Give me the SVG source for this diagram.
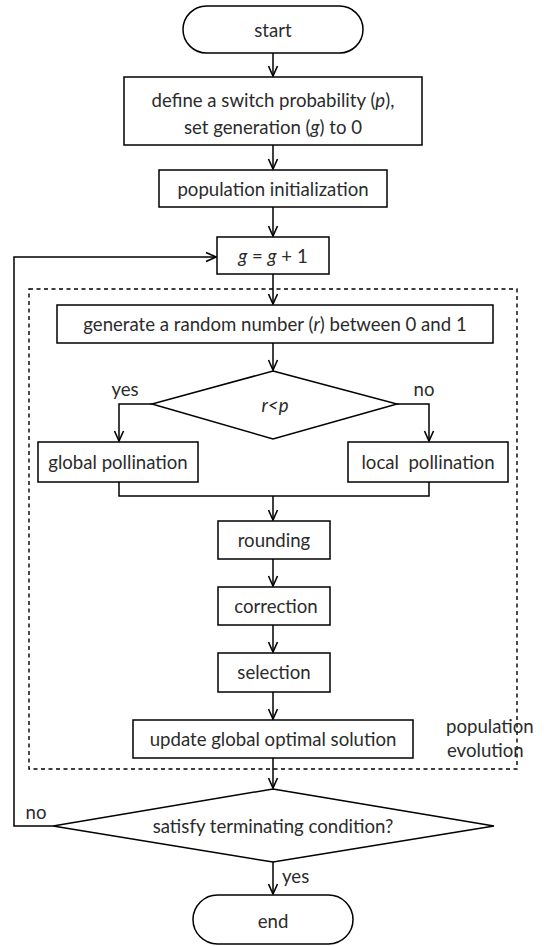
<svg xmlns="http://www.w3.org/2000/svg" width="547" height="946" viewBox="0 0 547 946">
<style>
.n{fill:#fff;stroke:#000;stroke-width:1.5}
.c{fill:none;stroke:#000;stroke-width:1.5}
.t{font-family:Lato,"Open Sans",sans-serif;font-weight:400;font-size:18.6px;fill:#2b2b2b;text-anchor:middle;dominant-baseline:central;white-space:pre}
.l{font-family:Lato,"Open Sans",sans-serif;font-weight:400;font-size:18.6px;fill:#2b2b2b}
</style>
<defs>
<marker id="a" viewBox="0 0 12 12" refX="11" refY="6" markerWidth="12" markerHeight="12" markerUnits="userSpaceOnUse" orient="auto">
<path d="M1,1.5 L11,6 L1,10.5" fill="none" stroke="#000" stroke-width="1.6"/>
</marker>
</defs>
<rect x="0" y="0" width="547" height="946" fill="#fff"/>
<g id="group-population-evolution">
<rect x="29" y="289" width="488" height="480" fill="none" stroke="#000" stroke-width="1.4" stroke-dasharray="4,3.5"/>
<text class="l" x="446" y="733">population</text>
<text class="l" x="447" y="757">evolution</text>
</g>
<g id="connectors" class="c">
<path class="c" d="M273,53 V76" marker-end="url(#a)"/>
<path class="c" d="M273,145 V169" marker-end="url(#a)"/>
<path class="c" d="M273,207 V236" marker-end="url(#a)"/>
<path class="c" d="M273,274 V304" marker-end="url(#a)"/>
<path class="c" d="M273,343 V370" marker-end="url(#a)"/>
<path class="c" d="M152,404 H119 V441" marker-end="url(#a)"/>
<path class="c" d="M397,404 H429 V441" marker-end="url(#a)"/>
<path class="c" d="M119,482 V496 H429 V482"/>
<path class="c" d="M273,496 V520" marker-end="url(#a)"/>
<path class="c" d="M273,559 V586" marker-end="url(#a)"/>
<path class="c" d="M273,625 V652" marker-end="url(#a)"/>
<path class="c" d="M273,692 V719" marker-end="url(#a)"/>
<path class="c" d="M273,758 V788" marker-end="url(#a)"/>
<path class="c" d="M53,826 H14 V257 H216" marker-end="url(#a)"/>
<path class="c" d="M273,862 V894" marker-end="url(#a)"/>
</g>
<g id="labels">
<text class="t" x="125" y="389">yes</text>
<text class="t" x="424" y="389">no</text>
<text class="t" x="36" y="812">no</text>
<text class="l" x="282" y="883">yes</text>
</g>
<g id="start"><rect class="n" x="183" y="6" width="180" height="47" rx="23.5"/><text class="t" x="273" y="30">start</text></g>
<g id="define"><rect class="n" x="124" y="77" width="298" height="68"/><text class="t" x="273" y="100">define a switch probability (<tspan font-style="italic">p</tspan>),</text><text class="t" x="273" y="127">set generation (<tspan font-style="italic">g</tspan>) to 0</text></g>
<g id="init"><rect class="n" x="159" y="170" width="228" height="37"/><text class="t" x="273" y="189">population initialization</text></g>
<g id="increment"><rect class="n" x="217" y="237" width="112" height="37"/><text class="t" x="273" y="256"><tspan font-style="italic">g</tspan> = <tspan font-style="italic">g</tspan> + 1</text></g>
<g id="random"><rect class="n" x="57" y="305" width="436" height="38"/><text class="t" x="275" y="324">generate a random number (<tspan font-style="italic">r</tspan>) between 0 and 1</text></g>
<g id="decision-rp"><polygon class="n" points="273,371 397,404 273,439 152,404"/><text class="t" x="275" y="405" font-style="italic">r&lt;p</text></g>
<g id="global"><rect class="n" x="38" y="442" width="160" height="40"/><text class="t" x="118" y="462">global pollination</text></g>
<g id="local"><rect class="n" x="348" y="442" width="160" height="40"/><text class="t" x="428" y="462">local  pollination</text></g>
<g id="rounding"><rect class="n" x="218" y="521" width="112" height="38"/><text class="t" x="274" y="540">rounding</text></g>
<g id="correction"><rect class="n" x="218" y="587" width="112" height="38"/><text class="t" x="276" y="606">correction</text></g>
<g id="selection"><rect class="n" x="218" y="653" width="112" height="39"/><text class="t" x="274" y="672">selection</text></g>
<g id="update"><rect class="n" x="133" y="720" width="280" height="38"/><text class="t" x="273" y="739">update global optimal solution</text></g>
<g id="decision-terminate"><polygon class="n" points="273,789 494,826 273,862 53,826"/><text class="t" x="273" y="826">satisfy terminating condition?</text></g>
<g id="end"><rect class="n" x="193" y="895" width="160" height="49" rx="24.5"/><text class="t" x="273" y="921">end</text></g>
</svg>
